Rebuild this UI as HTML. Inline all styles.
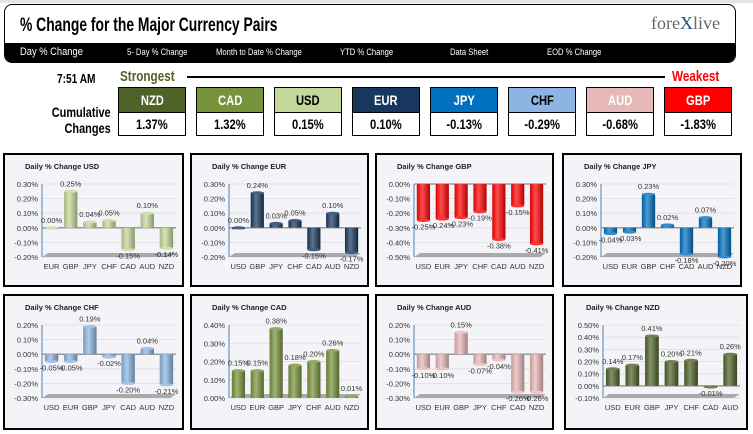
<!DOCTYPE html>
<html><head><meta charset="utf-8">
<style>
body{margin:0;width:753px;height:434px;background:#fff;position:relative;overflow:hidden;font-family:"Liberation Sans",sans-serif}
.abs{position:absolute}
.cond{font-family:"Liberation Sans",sans-serif;font-weight:bold;transform:scaleX(.78);transform-origin:left top;white-space:nowrap}
.nav{position:absolute;top:47px;color:#fff;font-size:9px;transform:scaleX(.85);transform-origin:left top;white-space:nowrap}
.box{position:absolute;top:87px;width:66px;height:47px;border:1px solid #000;background:#fff;font-weight:bold}
.box .h{height:24px;line-height:24px;text-align:center;font-size:14px;border-bottom:1px solid #000;color:#fff}
.box .v{height:22px;line-height:22px;text-align:center;font-size:14px;color:#000}
.box span{display:inline-block;transform:scaleX(.8)}
</style></head><body>
<div class="abs" style="left:0;top:0;width:753px;height:3px;background:#e4e4e4"></div>
<div class="abs" style="left:4px;top:4px;width:730px;height:57px;border:1px solid #000;border-radius:8px;overflow:hidden;background:#fff">
  <div class="abs cond" style="left:15px;top:10px;font-size:19px;color:#000;transform:scaleX(.73)">% Change for the Major Currency Pairs</div>
  <div class="abs" style="left:646px;top:8px;font-family:'Liberation Serif',serif;font-size:18px;color:#666;white-space:nowrap">fore<span style="color:#1f4e99">X</span>live</div>
  <div class="abs" style="left:0;top:38px;width:730px;height:20px;background:#000"></div>
</div>
<div class="nav" style="left:20px;font-size:11px;top:46px">Day % Change</div>
<div class="nav" style="left:127px">5- Day % Change</div>
<div class="nav" style="left:216px">Month to Date % Change</div>
<div class="nav" style="left:340px">YTD % Change</div>
<div class="nav" style="left:450px">Data Sheet</div>
<div class="nav" style="left:547px">EOD % Change</div>

<div class="abs cond" style="left:57px;top:71px;font-size:13px">7:51 AM</div>
<div class="abs cond" style="left:120px;top:68px;font-size:15px;color:#4f6228">Strongest</div>
<div class="abs" style="left:187px;top:76px;width:478px;height:2px;background:#000"></div>
<div class="abs cond" style="left:672px;top:68px;font-size:15px;color:#ff0000">Weakest</div>
<div class="abs cond" style="left:42px;top:104px;width:88px;text-align:right;font-size:14px;line-height:16px">Cumulative<br>Changes</div>

<div class="box" style="left:118px"><div class="h" style="background:#4f6228"><span>NZD</span></div><div class="v"><span>1.37%</span></div></div>
<div class="box" style="left:196px"><div class="h" style="background:#77933c"><span>CAD</span></div><div class="v"><span>1.32%</span></div></div>
<div class="box" style="left:274px"><div class="h" style="background:#c4d79b;color:#000"><span>USD</span></div><div class="v"><span>0.15%</span></div></div>
<div class="box" style="left:352px"><div class="h" style="background:#17375e"><span>EUR</span></div><div class="v"><span>0.10%</span></div></div>
<div class="box" style="left:430px"><div class="h" style="background:#0070c0"><span>JPY</span></div><div class="v"><span>-0.13%</span></div></div>
<div class="box" style="left:508px"><div class="h" style="background:#8db4e2;color:#000"><span>CHF</span></div><div class="v"><span>-0.29%</span></div></div>
<div class="box" style="left:586px"><div class="h" style="background:#e6b8b7"><span>AUD</span></div><div class="v"><span>-0.68%</span></div></div>
<div class="box" style="left:664px"><div class="h" style="background:#ff0000"><span>GBP</span></div><div class="v"><span>-1.83%</span></div></div>

<svg id="charts" class="abs" style="left:0;top:0" width="753" height="434" xmlns="http://www.w3.org/2000/svg"></svg>

<script>
// ---- data ----
const usdCats=["EUR","GBP","JPY","CHF","CAD","AUD","NZD"];
const usdVals=[0.00,0.25,0.04,0.05,-0.15,0.10,-0.14];
const usdTicks=[0.30,0.20,0.10,0.00,-0.10,-0.20];
const eurCats=["USD","GBP","JPY","CHF","CAD","AUD","NZD"];
const eurVals=[0.00,0.24,0.03,0.05,-0.15,0.10,-0.17];
const eurTicks=[0.30,0.20,0.10,0.00,-0.10,-0.20];
const gbpCats=["USD","EUR","JPY","CHF","CAD","AUD","NZD"];
const gbpVals=[-0.25,-0.24,-0.23,-0.19,-0.38,-0.15,-0.41];
const gbpTicks=[0.00,-0.10,-0.20,-0.30,-0.40,-0.50];
const jpyCats=["USD","EUR","GBP","CHF","CAD","AUD","NZD"];
const jpyVals=[-0.04,-0.03,0.23,0.02,-0.18,0.07,-0.20];
const jpyTicks=[0.30,0.20,0.10,0.00,-0.10,-0.20];
const chfCats=["USD","EUR","GBP","JPY","CAD","AUD","NZD"];
const chfVals=[-0.05,-0.05,0.19,-0.02,-0.20,0.04,-0.21];
const chfTicks=[0.20,0.10,0.00,-0.10,-0.20,-0.30];
const cadCats=["USD","EUR","GBP","JPY","CHF","AUD","NZD"];
const cadVals=[0.15,0.15,0.38,0.18,0.20,0.26,0.01];
const cadTicks=[0.40,0.30,0.20,0.10,0.00];
const audCats=["USD","EUR","GBP","JPY","CHF","CAD","NZD"];
const audVals=[-0.10,-0.10,0.15,-0.07,-0.04,-0.26,-0.26];
const audTicks=[0.20,0.10,0.00,-0.10,-0.20,-0.30];
const nzdCats=["USD","EUR","GBP","JPY","CHF","CAD","AUD"];
const nzdVals=[0.14,0.17,0.41,0.20,0.21,-0.01,0.26];
const nzdTicks=[0.50,0.40,0.30,0.20,0.10,0.00,-0.10];

const NS="http://www.w3.org/2000/svg";
const svg=document.getElementById('charts');
function mk(tag,attrs,parent){const e=document.createElementNS(NS,tag);for(const k in attrs)e.setAttribute(k,attrs[k]);parent.appendChild(e);return e;}
const defs=mk('defs',{},svg);
function shade(hex,f){let n=parseInt(hex.slice(1),16);let r=n>>16,g=(n>>8)&255,b=n&255;
 const c=v=>Math.max(0,Math.min(255,Math.round(f>0?v+(255-v)*f:v*(1+f))));return `rgb(${c(r)},${c(g)},${c(b)})`;}
function grad(id,color){const g=mk('linearGradient',{id:id,x1:0,y1:0,x2:1,y2:0},defs);
 mk('stop',{offset:'0',"stop-color":shade(color,-0.15)},g);
 mk('stop',{offset:'0.4',"stop-color":shade(color,0.3)},g);
 mk('stop',{offset:'1',"stop-color":shade(color,-0.3)},g);}
const F='Liberation Sans, sans-serif';
function chart(name,px,py,pw,ph,title,cats,vals,ticks,color){
 const g=mk('g',{},svg);
 
 
 const bg=mk('rect',{x:px+1,y:py+1,width:pw-2,height:ph-2,fill:'#f4f3f7',stroke:'#000','stroke-width':2},g);
 
 
 const t=mk('text',{x:px+22,y:py+16,'font-size':7.5,'font-weight':'bold','font-family':F,fill:'#222'},g);
 t.textContent=title;
 
 
 const ax=px+39, right=px+pw-8, top=py+31, bot=py+104;
 const tmax=ticks[0], tmin=ticks[ticks.length-1];
 const y=v=>top+(tmax-v)/(tmax-tmin)*(bot-top);
 ticks.forEach(tk=>{
  mk('line',{x1:ax,x2:right,y1:y(tk),y2:y(tk),stroke:'#ddd','stroke-width':0.8},g);
  const tl=mk('text',{x:ax-4,y:y(tk)+3,'font-size':7.5,'text-anchor':'end','font-family':F,fill:'#333'},g);
  tl.textContent=tk.toFixed(2)+'%';
  
  
 });
 mk('polygon',{points:`${ax},${bot} ${right-6},${bot} ${right},${bot-4} ${ax+6},${bot-4}`,fill:'#aaa'},g);
 if(tmin<0) mk('line',{x1:ax,x2:right,y1:y(0),y2:y(0),stroke:'#999','stroke-width':1.5},g);
 mk('line',{x1:ax,x2:ax,y1:top,y2:bot,stroke:'#4f81bd','stroke-width':1},g);
 const gid='g'+name; grad(gid,color);
 const slot=(right-ax)/cats.length, bw=slot*0.7;
 cats.forEach((c,i)=>{
  const cx=ax+slot*(i+0.5), v=vals[i];
  const y0=y(0), y1=y(v), yt=Math.min(y0,y1), h=Math.max(1.5,Math.abs(y1-y0));
  const b=mk('rect',{x:cx-bw/2,y:yt,width:bw,height:h,fill:`url(#${gid})`,rx:1},g);
  
  
  mk('ellipse',{cx:cx,cy:y1,rx:bw/2,ry:1.5,fill:shade(color,0.2)},g);
  const lbl=mk('text',{x:cx,y:v>=0?y1-5:y1+9,'font-size':7.5,'text-anchor':'middle','font-family':F,fill:'#333'},g);
  lbl.textContent=v.toFixed(2)+'%';
  
  
  const cl=mk('text',{x:cx,y:bot+12,'font-size':7.5,'text-anchor':'middle','font-family':F,fill:'#333'},g);
  cl.textContent=c;
  
  
 });
}
chart('chart-usd',3,153,181,134,'Daily % Change USD',usdCats,usdVals,usdTicks,'#c4d79b');
chart('chart-eur',190,153,179,134,'Daily % Change EUR',eurCats,eurVals,eurTicks,'#17375e');
chart('chart-gbp',375,153,179,134,'Daily % Change GBP',gbpCats,gbpVals,gbpTicks,'#ff0000');
chart('chart-jpy',562,153,180,134,'Daily % Change JPY',jpyCats,jpyVals,jpyTicks,'#0070c0');
chart('chart-chf',3,294,181,136,'Daily % Change CHF',chfCats,chfVals,chfTicks,'#8db4e2');
chart('chart-cad',190,294,179,136,'Daily % Change CAD',cadCats,cadVals,cadTicks,'#77933c');
chart('chart-aud',375,294,179,136,'Daily % Change AUD',audCats,audVals,audTicks,'#e6b8b7');
chart('chart-nzd',564,294,184,136,'Daily % Change NZD',nzdCats,nzdVals,nzdTicks,'#4f6228');
</script>
</body></html>
